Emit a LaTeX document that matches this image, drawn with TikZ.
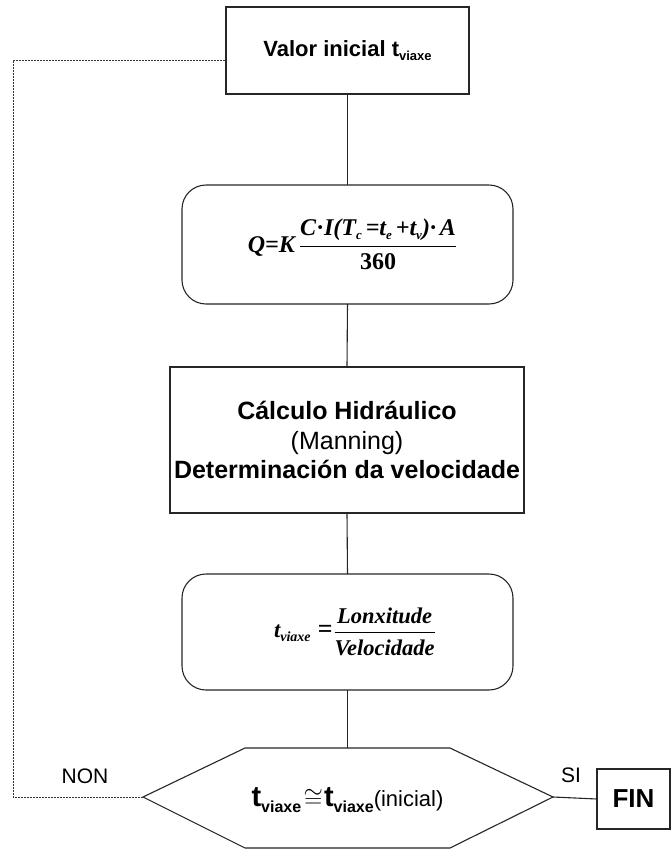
\documentclass[tikz,border=0pt]{standalone}
\usepackage{fontspec}
\setmainfont{Liberation Sans}
\newfontfamily\tms{Liberation Serif}
\newcommand{\lowsub}[2]{\raisebox{-0.35ex}{\fontsize{#1}{#1}\selectfont #2}}
\begin{document}
\begin{tikzpicture}[x=1pt,y=-1pt,
  line width=1.1pt,
  every node/.style={inner sep=0pt, outer sep=0pt},
  plainbox/.style={draw=black!85, fill=white, align=center},
  roundbox/.style={plainbox, rounded corners=24pt},
  link/.style={draw=black!85, line width=1.1pt},
  loop/.style={draw=black!80, line width=1pt, dash pattern=on 2pt off 1pt}]
\useasboundingbox (0,0) rectangle (672,852);

% process boxes
\node[plainbox, minimum width=243pt, minimum height=87pt,
  font=\fontsize{22}{26}\selectfont\bfseries] (start) at (347.5,50.5)
  {Valor inicial t\lowsub{13}{viaxe}};
\node[roundbox, minimum width=331pt, minimum height=119pt,
  font=\tms\bfseries\itshape\fontsize{24}{27}\selectfont] (flow) at (347.5,244.5)
  {\hspace*{10pt}Q=K\,$\displaystyle\frac{\hbox{C\kern1pt·\kern1pt I(T\lowsub{13}{c}\,=t\lowsub{13}{e}\,+t\lowsub{13}{v})·\,A}}{\hbox{\upshape 360}}$};
\node[plainbox, minimum width=354pt, minimum height=146pt,
  font=\fontsize{25}{29.5}\selectfont] (hydr) at (347,440)
  {\bfseries Cálculo Hidráulico\\
   (Manning)\\
   \bfseries Determinación da velocidade};
\node[roundbox, minimum width=331pt, minimum height=116pt,
  font=\tms\bfseries\itshape\fontsize{22.5}{26}\selectfont] (tvia) at (347.5,632)
  {\hspace*{15pt}t\lowsub{14}{viaxe}\kern7pt{\fontsize{26}{26}\selectfont=}\kern1pt$\displaystyle\frac{\hbox{\rule[-6pt]{0pt}{6pt}Lonxitude}}{\hbox{\rule{0pt}{22pt}Velocidade}}$};

% decision hexagon
\coordinate (hL) at (143,797);
\coordinate (hTL) at (245,748);
\coordinate (hTR) at (450,748);
\coordinate (hR) at (553,797);
\coordinate (hBR) at (450,848);
\coordinate (hBL) at (245,848);
\coordinate (hTop) at (347.5,748);
\draw[link, fill=white] (hL) -- (hTL) -- (hTR) -- (hR) -- (hBR) -- (hBL) -- cycle;
\node[font=\fontsize{29}{32}\selectfont\bfseries] (test) at (347.5,800)
  {t\lowsub{16}{viaxe}\kern2.5pt$\cong$\kern1pt t\lowsub{16}{viaxe}\mdseries\fontsize{22}{26}\selectfont(inicial)};

\node[plainbox, minimum width=73pt, minimum height=60pt,
  font=\fontsize{26}{30}\selectfont\bfseries] (fin) at (633.5,799) {FIN};

% connectors
\draw[link] (start.south) -- (flow.north);
\draw[link] (flow.south) -- (hydr.north);
\draw[link] (hydr.south) -- (tvia.north);
\draw[link] (tvia.south) -- (hTop);
\draw[link] (hR) -- (fin.west);

% return loop
\coordinate (loopTop) at (13,60);
\draw[loop] (hL) -| (loopTop) -- (loopTop -| start.west);

% branch labels
\node[font=\fontsize{21}{24}\selectfont] (non) at (85,776) {NON};
\node[font=\fontsize{21}{24}\selectfont] (si) at (571,775) {SI};
\end{tikzpicture}
\end{document}
